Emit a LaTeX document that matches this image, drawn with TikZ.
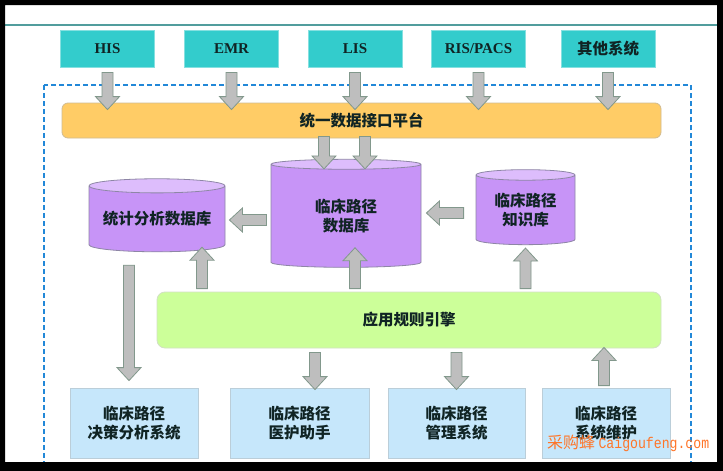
\documentclass[tikz,border=0pt]{standalone}
\usepackage{fontspec}
\usepackage{tikz}
\usetikzlibrary{calc,shapes.geometric}
\newfontfamily\cnfont{Noto Sans CJK SC}
\newfontfamily\srcfont{Liberation Serif}
\newfontfamily\wmmono{Liberation Mono}[FakeStretch=0.85]

\definecolor{srcteal}{HTML}{33CCCC}
\definecolor{busorange}{HTML}{FFCC66}
\definecolor{cylbody}{HTML}{C794F7}
\definecolor{cyltop}{HTML}{DDBDFC}
\definecolor{cylline}{HTML}{8E86A6}
\definecolor{enggreen}{HTML}{CCFF99}
\definecolor{appblue}{HTML}{C6E7FB}
\definecolor{flowgray}{HTML}{BEBEBE}
\definecolor{flowline}{HTML}{82988C}
\definecolor{dashblue}{HTML}{2288D8}
\definecolor{topline}{HTML}{519D9D}
\definecolor{labeldark}{HTML}{102424}
\definecolor{wmorange}{HTML}{FF7528}

\tikzset{
  srcbox/.style={fill=srcteal, draw=srcteal!60!white, line width=0.8pt,
    minimum width=94pt, minimum height=37pt, inner sep=0pt,
    font=\srcfont\bfseries\fontsize{15}{18}\selectfont, text=labeldark},
  cntext/.style={font=\cnfont\bfseries\fontsize{15.5}{19}\selectfont, text=labeldark, align=center},
  busbar/.style={cntext, rounded corners=6pt, fill=busorange, draw=busorange!70!black!60,
    line width=0.8pt, minimum width=599pt, minimum height=35pt},
  enginebar/.style={cntext, rounded corners=8pt, fill=enggreen, draw=enggreen!70!black!40,
    line width=0.8pt, minimum width=504pt, minimum height=56pt},
  dbcyl/.style={cntext, cylinder, shape border rotate=90, draw=cylline, line width=0.8pt,
    cylinder uses custom fill, cylinder body fill=cylbody, cylinder end fill=cyltop,
    inner sep=0pt},
  appbox/.style={cntext, fill=appblue, draw=appblue!80!black!70, line width=0.8pt,
    minimum height=70pt, inner sep=0pt},
  flow/.style={fill=flowgray, draw=flowline, line width=0.8pt, line join=miter}
}

% block arrow from #1 to #2
\newcommand{\flowarrow}[2]{%
  \draw[flow] let \p1=(#1), \p2=(#2), \n1={veclen(\x2-\x1,\y2-\y1)},
    \n2={(\x2-\x1)/\n1}, \n3={(\y2-\y1)/\n1} in
    ({\x1-5.5*\n3},{\y1+5.5*\n2}) -- ({\x2-13*\n2-5.5*\n3},{\y2-13*\n3+5.5*\n2})
    -- ({\x2-13*\n2-12*\n3},{\y2-13*\n3+12*\n2}) -- (\p2)
    -- ({\x2-13*\n2+12*\n3},{\y2-13*\n3-12*\n2}) -- ({\x2-13*\n2+5.5*\n3},{\y2-13*\n3-5.5*\n2})
    -- ({\x1+5.5*\n3},{\y1-5.5*\n2}) -- cycle;}

\begin{document}
\begin{tikzpicture}[x=1pt,y=-1pt]
\useasboundingbox (0,0) rectangle (723,471);
\fill[white] (0,0) rectangle (723,471);
\draw[topline, line width=1.5pt] (5,25) -- (717,25);
\draw[dashblue, line width=1.2pt, dash pattern=on 5pt off 3pt] (44,85) rectangle (691,468);

% source systems
\node[srcbox] (his) at (107.5,48.5) {HIS};
\node[srcbox] (emr) at (231.5,48.5) {EMR};
\node[srcbox] (lis) at (355,48.5) {LIS};
\node[srcbox] (ris) at (478.5,48.5) {RIS/PACS};
\node[srcbox, font=\cnfont\bfseries\fontsize{15.5}{19}\selectfont] (other) at (608,48.5) {其他系统};

\node[busbar] (bus) at (361.5,120.5) {统一数据接口平台};

% databases
\node[dbcyl, aspect=0.16, minimum width=150pt, minimum height=108pt] (cpdb) at (346,216) {临床路径\\数据库};
\node[dbcyl, aspect=0.13, minimum width=136pt, minimum height=73pt] (statdb) at (157,219) {统计分析数据库};
\node[dbcyl, aspect=0.17, minimum width=99pt, minimum height=75pt] (kbdb) at (525.5,210) {临床路径\\知识库};

\node[enginebar] (engine) at (409,320) {应用规则引擎};

% applications
\node[appbox, minimum width=128pt] (dss) at (134,423) {临床路径\\决策分析系统};
\node[appbox, minimum width=139pt] (nurse) at (299.5,423) {临床路径\\医护助手};
\node[appbox, minimum width=137pt] (mgmt) at (456.5,423) {临床路径\\管理系统};
\node[appbox, minimum width=128pt] (maint) at (606,423) {临床路径\\系统维护};

% arrows
\foreach \s in {his,emr,lis,ris,other}
  \flowarrow{$(\s.south)+(0,5)$}{$(\s.south |- bus.north)+(0,7)$};
\flowarrow{$(bus.south -| cpdb.north)+(-22,-2)$}{$(cpdb.north)+(-22,10)$}
\flowarrow{$(bus.south -| cpdb.north)+(19,-2)$}{$(cpdb.north)+(19,10)$}
\flowarrow{$(cpdb.west)+(-4,4)$}{$(statdb.east |- cpdb.west)+(4,4)$}
\flowarrow{$(kbdb.west)+(-12,3)$}{$(cpdb.east |- kbdb.west)+(5,3)$}
\flowarrow{$(engine.north -| statdb.south)+(45,-3)$}{$(statdb.south)+(45,-5)$}
\flowarrow{$(engine.north -| cpdb.south)+(9,-3)$}{$(cpdb.south)+(9,-20)$}
\flowarrow{$(engine.north -| kbdb.south)+(0,-3)$}{$(kbdb.south)+(0,3)$}
\flowarrow{$(statdb.south)+(-28,13)$}{$(dss.north)+(-5,-7)$}
\flowarrow{$(engine.south -| nurse.north)+(15.5,4)$}{$(nurse.north)+(15.5,2)$}
\flowarrow{$(engine.south -| mgmt.north)+(0,4)$}{$(mgmt.north)+(0,2)$}
\flowarrow{$(maint.north)+(-2,-2)$}{$(engine.south -| maint.north)+(-2,-1)$}

\node[anchor=west, text=wmorange, inner sep=0pt] (wm) at (547,443)
  {{\cnfont\fontsize{16}{18}\selectfont 采购蜂} {\wmmono\fontsize{15.5}{18}\selectfont Caigoufeng.com}};

% frame
\fill[black, even odd rule] (0,0) rectangle (723,471) (5,5) rectangle (717,462);
\end{tikzpicture}
\end{document}
